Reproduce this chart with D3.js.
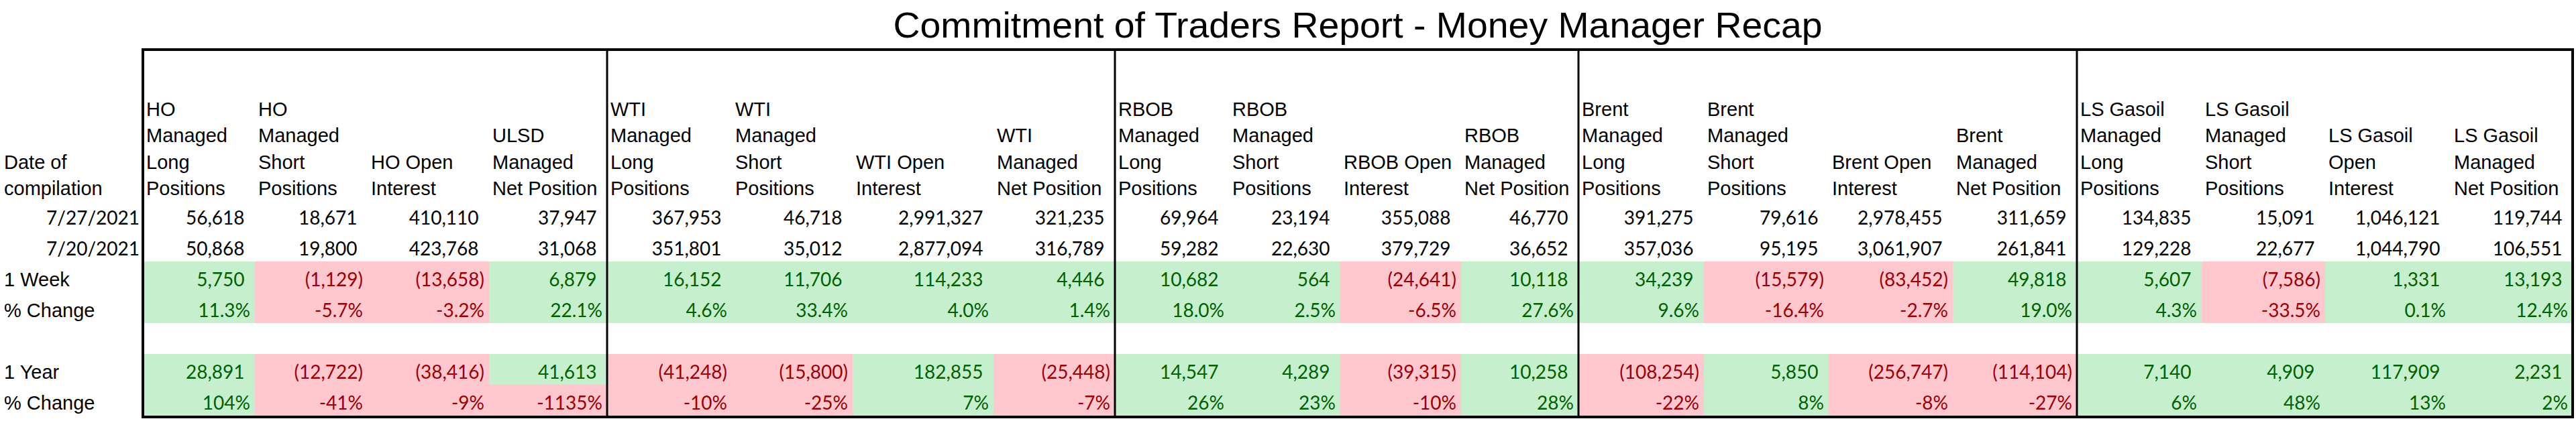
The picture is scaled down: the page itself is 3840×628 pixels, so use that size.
<!DOCTYPE html>
<html>
<head>
<meta charset="utf-8">
<script src="https://cdn.jsdelivr.net/npm/d3@7"></script>
<style>
  html, body { margin: 0; padding: 0; background: #fff; }
  svg { display: block; }
</style>
</head>
<body>
<div id="chart"></div>
<script>
// commodities in the report, 4 columns each
const groups = ["HO", "WTI", "RBOB", "Brent", "LS Gasoil"]

const headers = [
  ["HO", "Managed", "Long", "Positions"], ["HO", "Managed", "Short", "Positions"], ["HO Open", "Interest"], ["ULSD", "Managed", "Net Position"],
  ["WTI", "Managed", "Long", "Positions"], ["WTI", "Managed", "Short", "Positions"], ["WTI Open", "Interest"], ["WTI", "Managed", "Net Position"],
  ["RBOB", "Managed", "Long", "Positions"], ["RBOB", "Managed", "Short", "Positions"], ["RBOB Open", "Interest"], ["RBOB", "Managed", "Net Position"],
  ["Brent", "Managed", "Long", "Positions"], ["Brent", "Managed", "Short", "Positions"], ["Brent Open", "Interest"], ["Brent", "Managed", "Net Position"],
  ["LS Gasoil", "Managed", "Long", "Positions"], ["LS Gasoil", "Managed", "Short", "Positions"], ["LS Gasoil", "Open", "Interest"], ["LS Gasoil", "Managed", "Net Position"]
]

const dates = ["7/27/2021", "7/20/2021"]

const latest = [56618, 18671, 410110, 37947, 367953, 46718, 2991327, 321235, 69964, 23194, 355088, 46770, 391275, 79616, 2978455, 311659, 134835, 15091, 1046121, 119744]
const prior = [50868, 19800, 423768, 31068, 351801, 35012, 2877094, 316789, 59282, 22630, 379729, 36652, 357036, 95195, 3061907, 261841, 129228, 22677, 1044790, 106551]
const weekChange = [5750, -1129, -13658, 6879, 16152, 11706, 114233, 4446, 10682, 564, -24641, 10118, 34239, -15579, -83452, 49818, 5607, -7586, 1331, 13193]
const weekPct = [11.3, -5.7, -3.2, 22.1, 4.6, 33.4, 4.0, 1.4, 18.0, 2.5, -6.5, 27.6, 9.6, -16.4, -2.7, 19.0, 4.3, -33.5, 0.1, 12.4]
const yearChange = [28891, -12722, -38416, 41613, -41248, -15800, 182855, -25448, 14547, 4289, -39315, 10258, -108254, 5850, -256747, -114104, 7140, 4909, 117909, 2231]
const yearPct = [104, -41, -9, -1135, -10, -25, 7, -7, 26, 23, -10, 28, -22, 8, -8, -27, 6, 48, 13, 2]

const rowLabels = ["1 Week", "% Change", "", "1 Year", "% Change"]

// layout
const width = 3840, height = 628
const colEdges = [213, 380, 548, 729, 905, 1091, 1271, 1481, 1662, 1832, 1998, 2178, 2353, 2540, 2726, 2911, 3096, 3282, 3466, 3653, 3835]
const tableTop = 74, tableBottom = 622
const headFont = "'Liberation Sans', Arial, sans-serif"
const numFont = "Lato, 'Noto Sans', sans-serif"

const colIdx = d3.range(headers.length)
const xLeft = d3.scaleOrdinal().domain(colIdx).range(colEdges.slice(0, -1))
const xRight = d3.scaleOrdinal().domain(colIdx).range(colEdges.slice(1))
// rows 1..7 below the header
const y = d3.scaleLinear().domain([1, 8]).range([298, 620])
const rowH = y(2) - y(1)

// excel style: plain hyphen for minus
const locale = d3.formatLocale({decimal: ".", thousands: ",", grouping: [3], currency: ["$", ""], minus: "-"})
const fmtInt = locale.format(",")
const fmt1 = locale.format(".1f")
const fmt0 = locale.format(".0f")

const svg = d3.select("#chart")
  .append("svg")
  .attr("width", width)
  .attr("height", height)

svg.append("rect").attr("width", width).attr("height", height).attr("fill", "#fff")

svg.append("text")
  .text("Commitment of Traders Report - Money Manager Recap")
  .attr("x", 2024)
  .attr("y", 56)
  .attr("text-anchor", "middle")
  .attr("font-family", headFont)
  .attr("font-size", 54)
  .attr("textLength", 1385)
  .attr("lengthAdjust", "spacingAndGlyphs")
  .attr("fill", "#000")

// build cells for the change rows
const changeRows = [
  {row: 3, values: weekChange, kind: "int"},
  {row: 4, values: weekPct, kind: "pct1"},
  {row: 6, values: yearChange, kind: "int"},
  {row: 7, values: yearPct, kind: "pct0"}
]
const cells = []
changeRows.forEach(r => r.values.forEach((v, i) => cells.push({row: r.row, col: i, value: v, kind: r.kind})))
latest.forEach((v, i) => cells.push({row: 1, col: i, value: v, kind: "plain"}))
prior.forEach((v, i) => cells.push({row: 2, col: i, value: v, kind: "plain"}))

svg.selectAll(".fill")
  .data(cells.filter(d => d.kind != "plain"))
  .enter()
  .append("rect")
  .attr("class", "fill")
  .attr("x", d => xLeft(d.col))
  .attr("y", d => y(d.row))
  .attr("width", d => xRight(d.col) - xLeft(d.col))
  .attr("height", rowH)
  .attr("fill", d => d.value < 0 ? "#FFC7CE" : "#C6EFCE")

const parenW = 8.5
const label = d => {
  if (d.kind == "pct1") return fmt1(d.value) + "%"
  if (d.kind == "pct0") return fmt0(d.value) + "%"
  return d.value < 0 ? "(" + fmtInt(-d.value) + ")" : fmtInt(d.value)
}

svg.selectAll(".val")
  .data(cells)
  .enter()
  .append("text")
  .attr("class", "val")
  .text(label)
  .attr("x", d => {
    const pad = 7
    if (d.kind == "pct1" || d.kind == "pct0") return xRight(d.col) - pad
    return xRight(d.col) - pad - (d.value < 0 ? 0 : parenW)
  })
  .attr("y", d => y(d.row + 1) - 9)
  .attr("text-anchor", "end")
  .attr("font-family", numFont)
  .attr("font-size", 28)
  .attr("fill", d => d.kind == "plain" ? "#000" : (d.value < 0 ? "#9C0006" : "#006100"))

// header text, bottom aligned
const lineH = 39.3
const headBase = 291
const headG = svg.selectAll(".head")
  .data(headers)
  .enter()
  .append("text")
  .attr("class", "head")
  .attr("font-family", headFont)
  .attr("font-size", 29)
  .attr("fill", "#000")

headG.selectAll("tspan")
  .data((d, i) => d.map((t, k) => ({t, col: i, k, n: d.length})))
  .enter()
  .append("tspan")
  .text(d => d.t)
  .attr("x", d => xLeft(d.col) + 5)
  .attr("y", d => headBase - (d.n - 1 - d.k) * lineH)

svg.append("text")
  .attr("font-family", headFont)
  .attr("font-size", 29)
  .selectAll("tspan")
  .data(["Date of", "compilation"])
  .enter()
  .append("tspan")
  .text(d => d)
  .attr("x", 6)
  .attr("y", (d, i) => headBase - (1 - i) * lineH)

svg.selectAll(".date")
  .data(dates)
  .enter()
  .append("text")
  .attr("class", "date")
  .text(d => d)
  .attr("x", 208)
  .attr("y", (d, i) => y(i + 2) - 9)
  .attr("text-anchor", "end")
  .attr("font-family", numFont)
  .attr("font-size", 28)
  .attr("fill", "#000")

svg.selectAll(".rowlab")
  .data(rowLabels)
  .enter()
  .append("text")
  .attr("class", "rowlab")
  .text(d => d)
  .attr("x", 6)
  .attr("y", (d, i) => y(i + 4) - 9)
  .attr("font-family", headFont)
  .attr("font-size", 29)
  .attr("fill", "#000")

// group separators and outer frame
const groupEdges = groups.map((g, i) => colEdges[i * 4]).slice(1)
svg.selectAll(".sep")
  .data(groupEdges)
  .enter()
  .append("line")
  .attr("class", "sep")
  .attr("x1", d => d).attr("x2", d => d)
  .attr("y1", tableTop).attr("y2", tableBottom)
  .attr("stroke", "#000")
  .attr("stroke-width", 3)

svg.append("rect")
  .attr("x", colEdges[0])
  .attr("y", tableTop)
  .attr("width", colEdges[colEdges.length - 1] - colEdges[0])
  .attr("height", tableBottom - tableTop)
  .attr("fill", "none")
  .attr("stroke", "#000")
  .attr("stroke-width", 4)
</script>
</body>
</html>
